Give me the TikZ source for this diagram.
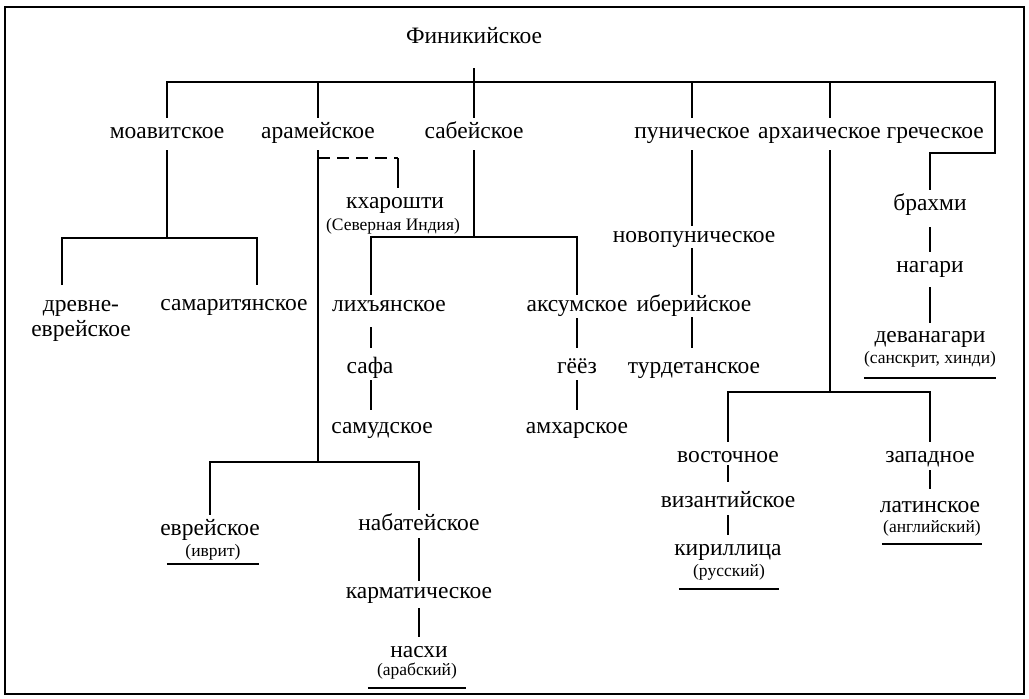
\documentclass[tikz,border=0pt]{standalone}
\usepackage{fontspec}
\setmainfont{Liberation Serif}
\begin{document}
\begin{tikzpicture}[x=1pt,y=-1pt,
  lbl/.style={font=\fontsize{23.5}{25}\selectfont, text height=14pt, text depth=3pt, inner xsep=2pt, inner ysep=6.5pt},
  sub/.style={font=\fontsize{17.5}{20}\selectfont, text height=10pt, text depth=3pt, inner xsep=0pt, inner ysep=9.5pt},
  ln/.style={line width=2pt},
  ul/.style={line width=1.5pt},
  dsh/.style={line width=2pt, dash pattern=on 12pt off 7pt}]
\useasboundingbox (0,0) rectangle (1029,699);
\draw[line width=1.5pt] (5,7) rectangle (1024,694);

% nodes
\node[lbl] (phoen) at (474,38) {Финикийское};
\node[lbl] (moab) at (167,133) {моавитское};
\node[lbl] (aram) at (318,133) {арамейское};
\node[lbl] (sab) at (474,133) {сабейское};
\node[lbl] (pun) at (692,133) {пуническое};
\node[lbl] (arch) at (871,133) {архаическое греческое};
\node[lbl] (khar) at (395,203) {кхарошти};
\node[sub] (kharS) at (393,227) {(Северная Индия)};
\node[lbl, anchor=north, align=center, text height=, text depth=, inner ysep=15pt,
  font=\fontsize{23.5}{25}\selectfont] (drev) at (81,285) {древне-\\еврейское};
\node[lbl] (samar) at (234,305) {самаритянское};
\node[lbl] (lih) at (389,306) {лихъянское};
\node[lbl] (safa) at (370,368) {сафа};
\node[lbl] (samud) at (382,428) {самудское};
\node[lbl] (aks) at (577,306) {аксумское};
\node[lbl] (geez) at (577,368) {гёёз};
\node[lbl] (amh) at (577,428) {амхарское};
\node[lbl] (npun) at (694,237) {новопуническое};
\node[lbl] (iber) at (694,306) {иберийское};
\node[lbl] (turd) at (694,368) {турдетанское};
\node[lbl] (brah) at (930,205) {брахми};
\node[lbl] (nag) at (930,267) {нагари};
\node[lbl] (devan) at (930,337) {деванагари};
\node[sub, minimum width=130pt, inner ysep=11.5pt] (devanS) at (930,360) {(санскрит, хинди)};
\node[lbl] (vost) at (728,457) {восточное};
\node[lbl] (viz) at (728,502) {византийское};
\node[lbl] (kir) at (728,550) {кириллица};
\node[sub, minimum width=100pt] (kirS) at (729,573) {(русский)};
\node[lbl] (zap) at (930,457) {западное};
\node[lbl] (lat) at (930,507) {латинское};
\node[sub, minimum width=100pt, inner ysep=8.5pt] (latS) at (932,529) {(английский)};
\node[lbl] (evr) at (210,530) {еврейское};
\node[sub, minimum width=92pt, inner ysep=4.5pt] (evrS) at (213,553) {(иврит)};
\node[lbl] (nab) at (419,525) {набатейское};
\node[lbl] (karm) at (419,593) {карматическое};
\node[lbl] (nas) at (419,652) {насхи};
\node[sub, minimum width=98pt] (nasS) at (417,672) {(арабский)};

% junctions
\coordinate (j0) at (474,82);
\coordinate (jTR) at (995,82);
\coordinate (jTR2) at (995,153);
\coordinate (jTR3) at (930,153);
\coordinate (jA) at (830,82);
\coordinate (jM) at (167,238);
\coordinate (jMl) at (62,238);
\coordinate (jMr) at (257,238);
\coordinate (jAr) at (318,462);
\coordinate (jEl) at (210,462);
\coordinate (jEr) at (419,462);
\coordinate (jK) at (398,158);
\coordinate (jS) at (474,237);
\coordinate (jSl) at (371,237);
\coordinate (jSr) at (577,237);
\coordinate (jG) at (830,392);
\coordinate (jGl) at (728,392);
\coordinate (jGr) at (930,392);

% top level
\draw[ln, shorten <=15pt] (phoen) -- (sab);
\draw[ln] (moab) -- (moab |- j0) -- (jTR) -- (jTR2) -- (jTR3) -- (brah);
\draw[ln] (aram) -- (aram |- j0);
\draw[ln] (pun) -- (pun |- j0);
\draw[ln] (jA) -- (jA |- arch.north);

% moabite
\draw[ln, shorten <=2pt] (moab) -- (jM);
\draw[ln, shorten >=5pt] (drev.north -| jMl) -- (jMl) -- (jMr) -- (samar.north -| jMr);

% aramaic
\draw[ln, shorten <=2pt] (aram) -- (jAr);
\draw[ln] (evr) -- (jEl) -- (jEr) -- (nab);
\draw[dsh] (jK -| aram) -- (jK);
\draw[ln] (jK) -- (jK |- khar.north);
\draw[ln, shorten <=-2pt, shorten >=-3pt] (nab) -- (karm);
\draw[ln] (karm) -- (nas);

% sabaean
\draw[ln, shorten <=2pt] (sab) -- (jS);
\draw[ln, shorten <=-4pt, shorten >=-4pt] (lih.north -| jSl) -- (jSl) -- (jSr) -- (aks);
\draw[ln, shorten <=6pt, shorten >=5pt] (lih.south -| jSl) -- (jSl |- safa.north);
\draw[ln, shorten <=-3pt, shorten >=3pt] (safa.south -| jSl) -- (jSl |- samud.north);
\draw[ln, shorten <=-3pt, shorten >=5pt] (aks) -- (geez);
\draw[ln, shorten <=-3pt, shorten >=3pt] (geez) -- (amh);

% punic
\draw[ln, shorten <=2pt, shorten >=-4pt] (pun) -- (pun |- npun.north);
\draw[ln, shorten <=-4pt, shorten >=-4pt] (npun.south -| pun) -- (pun |- iber.north);
\draw[ln, shorten <=-4pt, shorten >=5pt] (iber.south -| pun) -- (pun |- turd.north);

% greek
\draw[ln, shorten <=2pt] (arch.south -| jA) -- (jG);
\draw[ln] (vost) -- (jGl) -- (jGr) -- (zap);
\draw[ln, shorten <=-7pt, shorten >=5pt] (vost) -- (viz);
\draw[ln, shorten <=-2pt] (viz) -- (kir);
\draw[ln, shorten <=-2pt, shorten >=3pt] (zap) -- (lat);

% brahmi
\draw[ln, shorten <=7pt] (brah) -- (nag);
\draw[ln, shorten <=5pt, shorten >=-1pt] (nag) -- (devan);

% underlines
\draw[ul] (devanS.south west) -- (devanS.south east);
\draw[ul] (kirS.south west) -- (kirS.south east);
\draw[ul] (latS.south west) -- (latS.south east);
\draw[ul] (evrS.south west) -- (evrS.south east);
\draw[ul] (nasS.south west) -- (nasS.south east);
\end{tikzpicture}
\end{document}
